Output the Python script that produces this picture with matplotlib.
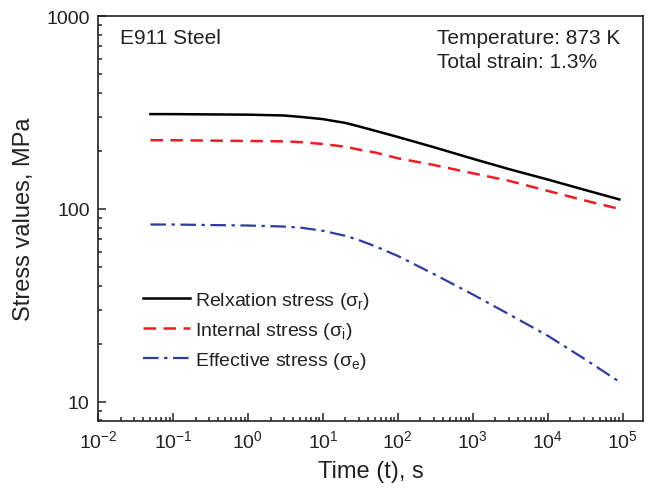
import matplotlib
matplotlib.use('Agg')
import matplotlib.pyplot as plt
import numpy as np
from matplotlib.ticker import LogLocator, NullFormatter

plt.rcParams['font.family'] = ['Liberation Sans', 'DejaVu Sans']
plt.rcParams['mathtext.fontset'] = 'custom'
plt.rcParams['mathtext.rm'] = 'Liberation Sans'
plt.rcParams['mathtext.it'] = 'Liberation Sans:italic'

# time (s) and stress values (MPa)
time = [0.05, 0.1, 0.3, 1, 3, 5, 10, 20, 30, 50, 100, 300, 1000, 3000, 1e4, 3e4, 9e4]
relaxation = [310, 310, 309, 308, 305, 300, 292, 279, 268, 254, 236, 209, 182, 161, 142, 126, 112]
internal = [227, 227, 226, 225, 224, 222, 217, 210, 203, 196, 183, 169, 153, 140, 124, 111, 100]
effective = [83, 83, 82.5, 82, 81, 80, 77, 72.5, 69, 64, 57, 46, 36, 28.5, 22, 16.8, 12.7]

labels = ['Relxation stress (σ$_\\mathregular{r}$)',
          'Internal stress (σ$_\\mathregular{i}$)',
          'Effective stress (σ$_\\mathregular{e}$)']

fig = plt.figure(figsize=(6.5, 4.89), dpi=100)
ax = fig.add_axes([0.1508, 0.137, 0.8384, 0.8282])

ax.plot(time, relaxation, color='black', lw=1.8, label=labels[0])
ax.plot(time, internal, color='#ee1c24', lw=1.8, ls=(0, (5, 3)), label=labels[1])
ax.plot(time, effective, color='#2e3c9c', lw=1.6, ls=(0, (7, 2.5, 1.5, 2.5)), label=labels[2])

ax.set_xscale('log')
ax.set_yscale('log')
ax.set_xlim(1e-2, 10 ** 5.27)
ax.set_ylim(7.95, 1000)

ax.set_yticks([10, 100, 1000])
ax.set_yticklabels(['10', '100', '1000'])
ax.xaxis.set_major_locator(LogLocator(base=10, numticks=20))
ax.xaxis.set_minor_locator(LogLocator(base=10, subs=np.arange(2, 10), numticks=100))
ax.yaxis.set_minor_locator(LogLocator(base=10, subs=np.arange(2, 10), numticks=100))
ax.xaxis.set_minor_formatter(NullFormatter())
ax.yaxis.set_minor_formatter(NullFormatter())

ax.tick_params(which='both', direction='in', top=False, right=False, width=1.1, labelsize=14, colors='#222222')
ax.tick_params(which='major', length=6, pad=6)
ax.tick_params(which='minor', length=3)
for s in ax.spines.values():
    s.set_linewidth(1.2)
    s.set_color('#222222')

ax.set_xlabel('Time (t), s', fontsize=17, color='#222222', labelpad=6)
ax.set_ylabel('Stress values, MPa', fontsize=17, color='#222222', labelpad=8)

ax.text(0.04, 0.948, 'E911 Steel', transform=ax.transAxes, fontsize=15, va='center', ha='left', color='#222222')
ax.text(0.622, 0.948, 'Temperature: 873 K', transform=ax.transAxes, fontsize=15, va='center', ha='left', color='#222222')
ax.text(0.622, 0.888, 'Total strain: 1.3%', transform=ax.transAxes, fontsize=15, va='center', ha='left', color='#222222')

leg = ax.legend(loc='lower left', bbox_to_anchor=(0.068, 0.105), frameon=False, fontsize=14,
                handlelength=2.4, handletextpad=0.3, labelspacing=0.45, borderaxespad=0)
for t in leg.get_texts():
    t.set_color('#222222')

fig.savefig('out.png', dpi=100)
